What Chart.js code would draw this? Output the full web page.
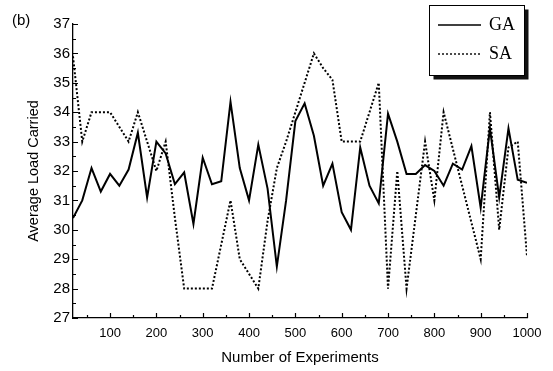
<!DOCTYPE html>
<html>
<head>
<meta charset="utf-8">
<script src="https://cdn.jsdelivr.net/npm/chart.js@4.4.1/dist/chart.umd.min.js"></script>
<style>
  body { margin: 0; background: #fff; }
</style>
</head>
<body>
<canvas id="lineChart" width="553" height="371"></canvas>
<script>

// x values: every 20 experiments
const experiments = [20,40,60,80,100,120,140,160,180,200,220,240,260,280,300,320,340,360,380,400,
  420,440,460,480,500,520,540,560,580,600,620,640,660,680,700,720,740,760,780,800,
  820,840,860,880,900,920,940,960,980,1000];

const gaValues = [30.4,31.0,32.1,31.3,31.9,31.5,32.05,33.3,31.1,33.0,32.6,31.55,31.95,30.2,32.45,31.55,31.65,34.35,32.1,31.0,
  32.9,31.4,28.75,31.0,33.7,34.3,33.2,31.5,32.25,30.6,30.0,32.8,31.5,30.9,33.95,33.0,31.9,31.9,32.2,32.0,
  31.5,32.25,32.05,32.85,30.75,33.45,31.1,33.45,31.7,31.6];

const saValues = [35.9,33.0,34.0,34.0,34.0,33.5,33.0,34.0,33.0,32.0,33.0,30.4,28.0,28.0,28.0,28.0,29.5,31.0,29.0,28.5,
  28.0,30.3,32.1,33.0,34.0,35.0,36.0,35.5,35.1,33.0,33.0,33.0,34.0,35.0,28.0,32.0,28.0,30.5,33.0,31.0,
  34.0,32.75,31.5,30.25,29.0,34.0,30.0,32.8,33.0,29.1];

const xTickLabels = [100,200,300,400,500,600,700,800,900,1000];
const yTickLabels = [27,28,29,30,31,32,33,34,35,36,37];

const seriesNames = ["GA", "SA"];

const sans = "'Liberation Sans', Arial, sans-serif";
const serif = "'Liberation Serif', 'Times New Roman', serif";

// inward tick marks, legend box and panel letter
const extras = {
  id: "extras",
  afterDraw(chart) {
    const ctx = chart.ctx;
    const area = chart.chartArea;
    const xs = chart.scales.x, ys = chart.scales.y;
    ctx.save();
    ctx.strokeStyle = "#000";
    ctx.lineWidth = 1.2;
    ctx.beginPath();
    for (let v = yTickLabels[0]; v <= yTickLabels[yTickLabels.length-1]; v += 0.5) {
      const y = Math.round(ys.getPixelForValue(v)) + 0.5;
      const len = Number.isInteger(v) ? 5 : 3;
      ctx.moveTo(area.left, y);
      ctx.lineTo(area.left + len, y);
    }
    for (let v = 50; v <= 1000; v += 50) {
      const x = Math.round(xs.getPixelForValue(v)) + 0.5;
      const len = v % 100 === 0 ? 5 : 3;
      ctx.moveTo(x, area.bottom);
      ctx.lineTo(x, area.bottom - len);
    }
    ctx.stroke();

    // legend box with shadow
    const bx = 429.5, by = 5.5, bw = 95, bh = 70;
    ctx.fillStyle = "#111";
    ctx.fillRect(bx + 4, by + 4, bw, bh);
    ctx.fillStyle = "#fff";
    ctx.fillRect(bx, by, bw, bh);
    ctx.lineWidth = 1;
    ctx.strokeStyle = "#000";
    ctx.strokeRect(bx, by, bw, bh);

    chart.data.datasets.forEach((ds, i) => {
      const ly = 25 + i * 29;
      ctx.beginPath();
      ctx.lineWidth = ds.label === "GA" ? 1.6 : 1.4;
      ctx.setLineDash(ds.borderDash || []);
      ctx.moveTo(438, ly);
      ctx.lineTo(481, ly);
      ctx.stroke();
      ctx.setLineDash([]);
      ctx.fillStyle = "#000";
      ctx.font = "18px " + serif;
      ctx.textBaseline = "middle";
      ctx.textAlign = "left";
      ctx.fillText(ds.label, 489, ly);
    });

    ctx.font = "15px " + sans;
    ctx.textBaseline = "alphabetic";
    ctx.fillText("(b)", 12, 25);
    ctx.restore();
  }
};

function createLineChart() {
  const canvas = document.getElementById("lineChart");

  new Chart(canvas, {
    type: "line",
    data: {
      labels: experiments,
      datasets: [{
        label: seriesNames[0],
        data: gaValues,
        borderColor: "#000",
        borderWidth: 2,
        pointRadius: 0,
        tension: 0
      }, {
        label: seriesNames[1],
        data: saValues,
        borderColor: "#000",
        borderWidth: 2,
        borderDash: [2, 2],
        pointRadius: 0,
        tension: 0
      }]
    },
    options: {
      responsive: false,
      animation: false,
      devicePixelRatio: 1,
      layout: { padding: { left: 0, top: 24, right: 26, bottom: 0 } },
      plugins: {
        legend: { display: false },
        tooltip: { enabled: false }
      },
      scales: {
        x: {
          type: "linear",
          min: 20,
          max: 1000,
          afterBuildTicks: scale => { scale.ticks = xTickLabels.map(v => ({ value: v })); },
          afterFit: scale => { scale.height = 53; },
          grid: { display: false, drawTicks: false },
          border: { display: true, color: "#000", width: 1.3 },
          ticks: {
            color: "#000",
            padding: 8,
            maxRotation: 0,
            autoSkip: false,
            callback: v => String(v),
            font: { family: sans, size: 13 }
          },
          title: {
            display: true,
            text: "Number of Experiments",
            color: "#000",
            padding: { top: 0, bottom: 4 },
            font: { family: sans, size: 15 }
          }
        },
        y: {
          min: 27,
          max: 37,
          afterBuildTicks: scale => { scale.ticks = yTickLabels.map(v => ({ value: v })); },
          afterFit: scale => { scale.width = 73; },
          grid: { display: false, drawTicks: false },
          border: { display: true, color: "#000", width: 1.3 },
          ticks: {
            color: "#000",
            padding: 3,
            callback: v => String(v),
            font: { family: sans, size: 15 }
          },
          title: {
            display: true,
            text: "Average Load Carried",
            color: "#000",
            padding: { top: 25, bottom: 0 },
            font: { family: sans, size: 14.5 }
          }
        }
      }
    },
    plugins: [extras]
  });
}

createLineChart();

</script>
</body>
</html>
